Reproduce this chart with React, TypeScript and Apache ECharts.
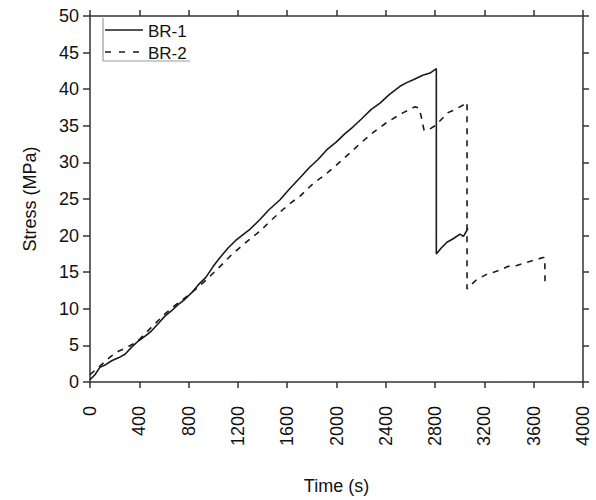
import React, { useEffect, useRef } from "react";
import * as echarts from "echarts";

const xTicks = [0, 400, 800, 1200, 1600, 2000, 2400, 2800, 3200, 3600, 4000];
const yTicks = [0, 5, 10, 15, 20, 25, 30, 35, 40, 45, 50];

const br1Time = [0, 40, 80, 130, 176, 230, 284, 340, 392, 450, 500, 560, 608, 660, 717, 770, 825, 880, 940, 1000, 1055, 1120, 1180, 1231, 1300, 1379, 1450, 1542, 1620, 1704, 1780, 1850, 1920, 2000, 2060, 2137, 2200, 2280, 2353, 2430, 2515, 2570, 2623, 2700, 2759, 2810, 2810, 2850, 2896, 2950, 3002, 3030, 3067];
const br1Stress = [0.3, 1.0, 2.0, 2.4, 2.9, 3.3, 3.8, 4.8, 5.6, 6.3, 7.0, 8.1, 9.0, 9.7, 10.6, 11.3, 12.2, 13.3, 14.3, 15.8, 17.0, 18.3, 19.3, 20.0, 20.9, 22.2, 23.5, 24.9, 26.4, 27.9, 29.3, 30.4, 31.7, 32.8, 33.8, 34.9, 35.9, 37.2, 38.1, 39.3, 40.4, 40.9, 41.3, 41.9, 42.2, 42.8, 17.5, 18.3, 19.1, 19.6, 20.2, 19.9, 21.0];

const br2Time = [0, 68, 162, 230, 297, 350, 406, 500, 608, 700, 825, 947, 1050, 1150, 1260, 1379, 1470, 1568, 1640, 1704, 1810, 1907, 2010, 2110, 2200, 2298, 2411, 2542, 2637, 2670, 2690, 2710, 2740, 2800, 2905, 2945, 3025, 3059, 3059, 3137, 3218, 3310, 3394, 3462, 3554, 3676, 3690, 3692];
const br2Stress = [1.0, 2.0, 3.4, 4.2, 4.7, 5.2, 5.9, 7.5, 9.3, 10.6, 12.2, 14.0, 15.7, 17.4, 19.0, 20.6, 22.1, 23.6, 24.6, 25.4, 27.1, 28.3, 29.8, 31.3, 32.7, 34.1, 35.5, 36.8, 37.6, 37.4, 36.1, 34.4, 34.4, 35.0, 36.8, 37.1, 37.8, 38.2, 12.7, 14.0, 14.7, 15.2, 15.8, 15.9, 16.4, 17.0, 17.0, 13.4];

const seriesNames = ["BR-1", "BR-2"];

export default function App() {
  const ref = useRef<HTMLDivElement>(null);
  useEffect(() => {
    if (!ref.current) return;
    const chart = echarts.init(ref.current, null, { renderer: "svg" });
    const font = "Liberation Sans, Arial, sans-serif";
    const axisColor = "#333";
    const br1 = br1Time.map((t, i) => [t, br1Stress[i]]);
    const br2 = br2Time.map((t, i) => [t, br2Stress[i]]);
    chart.setOption({
      animation: false,
      backgroundColor: "#fff",
      grid: { left: 90, right: 13, top: 16, bottom: 117, containLabel: false },
      xAxis: [
        {
          type: "value",
          min: xTicks[0],
          max: xTicks[xTicks.length - 1],
          interval: 400,
          name: "Time (s)",
          nameLocation: "middle",
          nameGap: 95,
          nameTextStyle: { fontFamily: font, fontSize: 18, color: "#111" },
          axisLine: { show: true, lineStyle: { color: axisColor, width: 1.5 } },
          axisTick: { show: true, inside: false, length: 6, lineStyle: { color: axisColor, width: 1.5 } },
          axisLabel: { rotate: 90, margin: 24, fontFamily: font, fontSize: 18, color: "#111", formatter: (v: number) => String(v) },
          splitLine: { show: false },
        },
        {
          type: "value",
          position: "top",
          min: xTicks[0],
          max: xTicks[xTicks.length - 1],
          interval: 400,
          axisLine: { show: true, onZero: false, lineStyle: { color: axisColor, width: 1.5 } },
          axisTick: { show: true, inside: false, length: 6, lineStyle: { color: axisColor, width: 1.5 } },
          axisLabel: { show: false },
          splitLine: { show: false },
        },
      ],
      yAxis: [
        {
          type: "value",
          min: yTicks[0],
          max: yTicks[yTicks.length - 1],
          interval: 5,
          name: "Stress (MPa)",
          nameLocation: "middle",
          nameGap: 51,
          nameTextStyle: { fontFamily: font, fontSize: 18, color: "#111" },
          axisLine: { show: true, lineStyle: { color: axisColor, width: 1.5 } },
          axisTick: { show: true, inside: false, length: 7, lineStyle: { color: axisColor, width: 1.5 } },
          axisLabel: { margin: 11, fontFamily: font, fontSize: 18, color: "#111", formatter: (v: number) => String(v) },
          splitLine: { show: false },
        },
        {
          type: "value",
          position: "right",
          min: yTicks[0],
          max: yTicks[yTicks.length - 1],
          interval: 5,
          axisLine: { show: true, onZero: false, lineStyle: { color: axisColor, width: 1.5 } },
          axisTick: { show: true, inside: false, length: 6, lineStyle: { color: axisColor, width: 1.5 } },
          axisLabel: { show: false },
          splitLine: { show: false },
        },
      ],
      series: [
        {
          name: seriesNames[0],
          type: "line",
          data: br1,
          showSymbol: false,
          symbol: "none",
          lineStyle: { color: "#1a1a1a", width: 1.6, type: "solid" },
          z: 3,
        },
        {
          name: seriesNames[1],
          type: "line",
          data: br2,
          showSymbol: false,
          symbol: "none",
          lineStyle: { color: "#1a1a1a", width: 1.6, type: [6, 6] },
          z: 2,
        },
      ],
      graphic: [
        { type: "line", shape: { x1: 103, y1: 18, x2: 103, y2: 61 }, style: { stroke: "#999", lineWidth: 1.2 } },
        { type: "line", shape: { x1: 103, y1: 61, x2: 190, y2: 61 }, style: { stroke: "#999", lineWidth: 1.2 } },
        { type: "line", shape: { x1: 105, y1: 30, x2: 143, y2: 30 }, style: { stroke: "#1a1a1a", lineWidth: 1.6 } },
        { type: "line", shape: { x1: 105, y1: 52, x2: 143, y2: 52 }, style: { stroke: "#1a1a1a", lineWidth: 1.6, lineDash: [6, 8] } },
        { type: "text", x: 148, y: 31, style: { text: seriesNames[0], fontFamily: font, fontSize: 17, fill: "#111", verticalAlign: "middle", align: "left" } },
        { type: "text", x: 148, y: 53, style: { text: seriesNames[1], fontFamily: font, fontSize: 17, fill: "#111", verticalAlign: "middle", align: "left" } },
      ],
    });
    return () => chart.dispose();
  }, []);
  return <div ref={ref} style={{ position: "fixed", left: 0, top: 0, width: 596, height: 500 }} />;
}
